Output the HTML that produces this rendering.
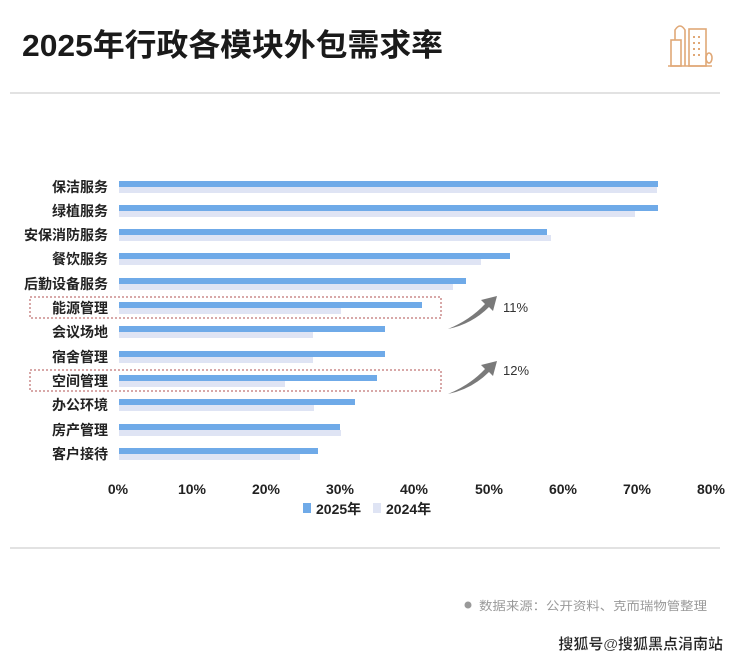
<!DOCTYPE html>
<html><head><meta charset="utf-8"><style>
html,body{margin:0;padding:0;background:#fff;}
svg text{font-family:"Liberation Sans","Noto Sans CJK SC",sans-serif;}
</style></head><body>
<svg width="740" height="660" viewBox="0 0 740 660" xmlns="http://www.w3.org/2000/svg">
<rect width="740" height="660" fill="#fff"/>
<text x="22" y="56" font-size="31" font-weight="bold" fill="#1a1a1a" textLength="421" lengthAdjust="spacingAndGlyphs">2025年行政各模块外包需求率</text>
<line x1="10" y1="93" x2="720" y2="93" stroke="#d8d8d8" stroke-width="1.5"/>
<!-- icon -->
<g stroke="#e0a877" stroke-width="1.6" fill="none">
<line x1="668" y1="66" x2="712" y2="66"/>
<rect x="671" y="40" width="10" height="26"/>
<path d="M675 40 V30 Q680 22 685 30 V66"/>
<rect x="689" y="29" width="17" height="37"/>
<ellipse cx="709" cy="58" rx="3" ry="5"/>
</g>
<g fill="#e0a877">
<rect x="693" y="36" width="2" height="2"/><rect x="698" y="36" width="2" height="2"/>
<rect x="693" y="42" width="2" height="2"/><rect x="698" y="42" width="2" height="2"/>
<rect x="693" y="48" width="2" height="2"/><rect x="698" y="48" width="2" height="2"/>
<rect x="693" y="54" width="2" height="2"/><rect x="698" y="54" width="2" height="2"/>
</g>
<!-- bars -->
<g fill="#6faae8">
<rect x="119" y="181" width="539" height="6"/>
<rect x="119" y="205" width="539" height="6"/>
<rect x="119" y="229" width="428" height="6"/>
<rect x="119" y="253" width="391" height="6"/>
<rect x="119" y="278" width="347" height="6"/>
<rect x="119" y="302" width="303" height="6"/>
<rect x="119" y="326" width="266" height="6"/>
<rect x="119" y="351" width="266" height="6"/>
<rect x="119" y="375" width="258" height="6"/>
<rect x="119" y="399" width="236" height="6"/>
<rect x="119" y="424" width="221" height="6"/>
<rect x="119" y="448" width="199" height="6"/>
</g>
<g fill="#dfe4f4">
<rect x="119" y="187" width="538" height="6"/>
<rect x="119" y="211" width="516" height="6"/>
<rect x="119" y="235" width="432" height="6"/>
<rect x="119" y="259" width="362" height="6"/>
<rect x="119" y="284" width="334" height="6"/>
<rect x="119" y="308" width="222" height="6"/>
<rect x="119" y="332" width="194" height="6"/>
<rect x="119" y="357" width="194" height="6"/>
<rect x="119" y="381" width="166" height="6"/>
<rect x="119" y="405" width="195" height="6"/>
<rect x="119" y="430" width="222" height="6"/>
<rect x="119" y="454" width="181" height="6"/>
</g>
<g font-size="14" font-weight="bold" fill="#222" text-anchor="end">
<text x="108" y="192">保洁服务</text>
<text x="108" y="216">绿植服务</text>
<text x="108" y="240">安保消防服务</text>
<text x="108" y="264">餐饮服务</text>
<text x="108" y="289">后勤设备服务</text>
<text x="108" y="313">能源管理</text>
<text x="108" y="337">会议场地</text>
<text x="108" y="362">宿舍管理</text>
<text x="108" y="386">空间管理</text>
<text x="108" y="410">办公环境</text>
<text x="108" y="435">房产管理</text>
<text x="108" y="459">客户接待</text>
</g>
<g fill="none" stroke="#b05050" stroke-width="1" stroke-dasharray="2,2">
<rect x="30" y="297" width="411" height="21"/>
<rect x="30" y="370" width="411" height="21"/>
</g>
<g fill="#7a7a7a">
<path d="M448 329 Q470 320 485 304 L481 300 L497 296 L493 311 L489 307 Q472 324 448 329 Z"/>
<path d="M448 394 Q470 385 485 369 L481 365 L497 361 L493 376 L489 372 Q472 389 448 394 Z"/>
</g>
<g font-size="13" fill="#333">
<text x="503" y="312">11%</text>
<text x="503" y="375">12%</text>
</g>
<g font-size="14" font-weight="bold" fill="#222" text-anchor="middle">
<text x="118" y="494">0%</text>
<text x="192" y="494">10%</text>
<text x="266" y="494">20%</text>
<text x="340" y="494">30%</text>
<text x="414" y="494">40%</text>
<text x="489" y="494">50%</text>
<text x="563" y="494">60%</text>
<text x="637" y="494">70%</text>
<text x="711" y="494">80%</text>
</g>
<rect x="303" y="503" width="8" height="10" fill="#6faae8"/>
<text x="316" y="514" font-size="14" font-weight="bold" fill="#222">2025年</text>
<rect x="373" y="503" width="8" height="10" fill="#dfe4f4"/>
<text x="386" y="514" font-size="14" font-weight="bold" fill="#222">2024年</text>
<line x1="10" y1="548" x2="720" y2="548" stroke="#d8d8d8" stroke-width="1.5"/>
<circle cx="468" cy="605" r="3.5" fill="#999"/>
<text x="479" y="610" font-size="12" fill="#999" textLength="228" lengthAdjust="spacingAndGlyphs">数据来源：公开资料、克而瑞物管整理</text>
<text x="723" y="649" font-size="15" font-weight="bold" fill="#222" text-anchor="end" stroke="#fff" stroke-width="0.3">搜狐号@搜狐黑点涓南站</text>
</svg>
</body></html>
